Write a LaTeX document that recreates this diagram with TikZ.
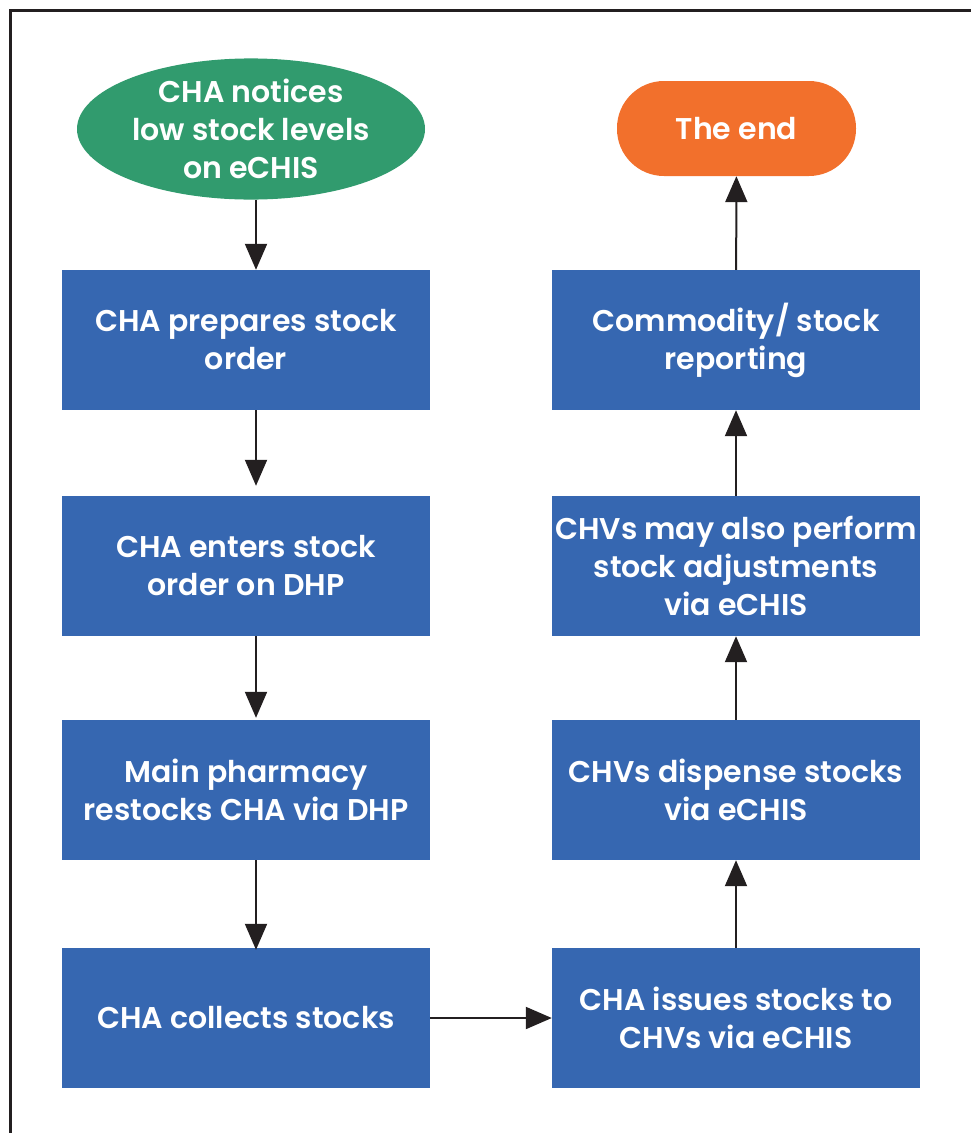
\documentclass[tikz,border=0pt]{standalone}
\usepackage{fontspec}
\setmainfont{Poppins}[UprightFont={* SemiBold}]
\usepackage{xcolor}
\usetikzlibrary{arrows.meta,shapes.geometric}
\definecolor{stepblue}{HTML}{3667B1}
\definecolor{startgreen}{HTML}{319B6E}
\definecolor{endorange}{HTML}{F2702C}
\definecolor{arrowgrey}{HTML}{231F20}

\begin{document}
\begin{tikzpicture}[x=1pt,y=-1pt,
    stepbox/.style={fill=stepblue, text=white, minimum width=368pt, minimum height=140pt,
      align=center, inner sep=0pt, font=\fontsize{30}{38}\selectfont},
    startnode/.style={ellipse, fill=startgreen, text=white, minimum width=348pt, minimum height=138pt,
      align=center, inner sep=0pt, font=\fontsize{30}{38}\selectfont},
    endnode/.style={fill=endorange, text=white, minimum width=239pt, minimum height=95pt,
      rounded corners=47pt, inner sep=0pt, font=\fontsize{30}{38}\selectfont},
    flow/.style={draw=arrowgrey, line width=2pt, -{Triangle[width=22pt,length=26pt]}}]
  \useasboundingbox (0,0) rectangle (970,1133);
  \draw[arrowgrey, line width=3pt] (10,10) rectangle (1000,1160);
  % left column
  \node[startnode] (notice) at (251,129) {CHA notices\\low stock levels\\on eCHIS};
  \node[stepbox] (prepare) at (246,340) {CHA prepares stock\\order};
  \node[stepbox] (enter) at (246,566) {CHA enters stock\\order on DHP};
  \node[stepbox] (restock) at (246,790) {Main pharmacy\\restocks CHA via DHP};
  \node[stepbox] (collect) at (246,1018) {CHA collects stocks};
  % right column
  \node[stepbox] (issue) at (736,1018) {CHA issues stocks to\\CHVs via eCHIS};
  \node[stepbox] (dispense) at (736,790) {CHVs dispense stocks\\via eCHIS};
  \node[stepbox] (adjust) at (736,566) {CHVs may also perform\\stock adjustments\\via eCHIS};
  \node[stepbox] (report) at (736,340) {Commodity/ stock\\reporting};
  \node[endnode] (theend) at (736.5,128.5) {The end};
  % arrows
  \draw[flow] ([xshift=5pt]notice.south) -- ([xshift=10pt]prepare.north);
  \draw[flow, shorten >=10pt] ([xshift=10pt]prepare.south) -- ([xshift=10pt]enter.north);
  \draw[flow, shorten >=2pt] ([xshift=10pt]enter.south) -- ([xshift=10pt]restock.north);
  \draw[flow, shorten >=-2pt] ([xshift=10pt]restock.south) -- ([xshift=10pt]collect.north);
  \draw[flow] (collect) -- (issue);
  \draw[flow] (issue) -- (dispense);
  \draw[flow] (dispense) -- (adjust);
  \draw[flow] (adjust) -- (report);
  \draw[flow] (report) -- (theend);
\end{tikzpicture}
\end{document}
